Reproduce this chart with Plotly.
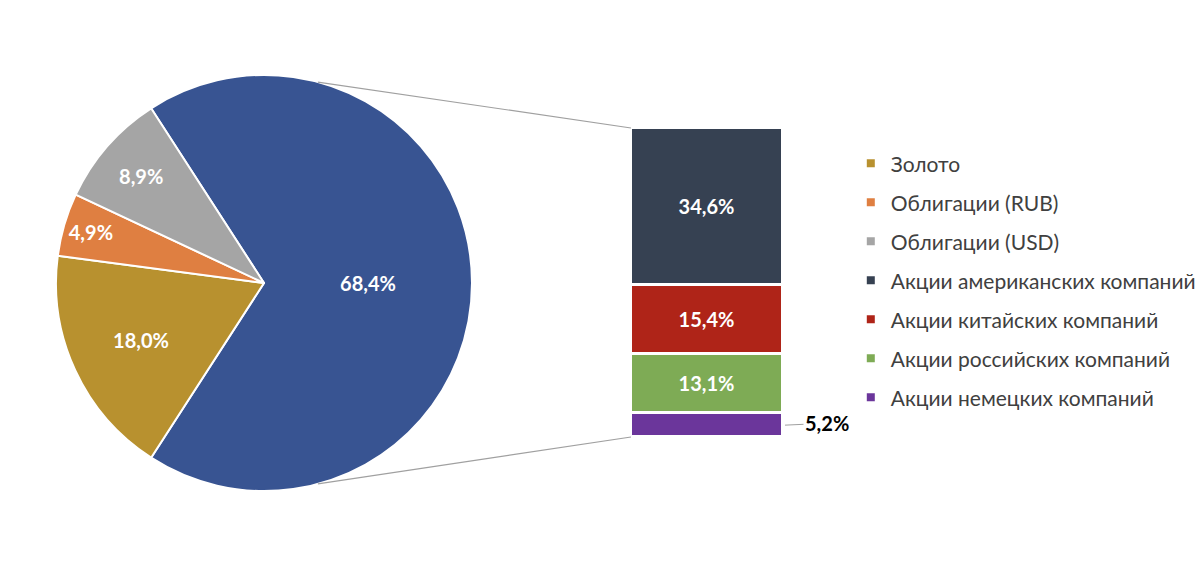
import math
import plotly.graph_objects as go

# ---------------- data ----------------
pie_labels = ["Акции", "Золото", "Облигации (RUB)", "Облигации (USD)"]
pie_values = [68.4, 18.0, 4.9, 8.9]
pie_colors = ["#385492", "#B8912F", "#DF7F41", "#A5A5A5"]

bar_labels = ["Акции немецких компаний", "Акции российских компаний",
              "Акции китайских компаний", "Акции американских компаний"]
bar_values = [5.2, 13.1, 15.4, 34.6]
bar_colors = ["#6B369B", "#7EAB55", "#AF2418", "#364152"]

legend_labels = ["Золото", "Облигации (RUB)", "Облигации (USD)",
                 "Акции американских компаний", "Акции китайских компаний",
                 "Акции российских компаний", "Акции немецких компаний"]
legend_colors = ["#B8912F", "#DF7F41", "#A5A5A5", "#364152", "#AF2418", "#7EAB55", "#6B369B"]


def fmt(v):
    return f"{v:.1f}%".replace(".", ",")


W, H = 1200, 562
FONT = "Lato, 'Open Sans', sans-serif"

# pie geometry (pixels)
cx, cy, R = 264, 283, 208
pie_dom_x = [(cx - R) / W, (cx + R) / W]
pie_dom_y = [(H - cy - R) / H, (H - cy + R) / H]

# bar geometry (pixels)
bx0, bx1, by_top, by_bot = 631, 783, 128, 437
bar_dom_x = [bx0 / W, bx1 / W]
bar_dom_y = [(H - by_bot) / H, (H - by_top) / H]

fig = go.Figure()

total = sum(pie_values)
rotation = 90 - pie_values[0] / total * 360 / 2

fig.add_trace(go.Pie(
    labels=pie_labels, values=pie_values, text=[fmt(v) for v in pie_values],
    textinfo="text", textposition="inside", insidetextorientation="horizontal",
    marker=dict(colors=pie_colors, line=dict(color="white", width=2)),
    sort=False, direction="clockwise", rotation=rotation,
    domain=dict(x=pie_dom_x, y=pie_dom_y), showlegend=False,
    textfont=dict(family=FONT, size=20, color="white", weight="bold"),
    hoverinfo="label+text",
))

for lab, val, col in zip(bar_labels, bar_values, bar_colors):
    big = val > 8
    fig.add_trace(go.Bar(
        x=[0], y=[val], name=lab, marker=dict(color=col, line=dict(color="white", width=3)),
        text=[fmt(val)] if big else None, textposition="inside" if big else "none",
        insidetextanchor="middle", showlegend=False,
        textfont=dict(family=FONT, size=20, color="white", weight="bold"),
        xaxis="x", yaxis="y",
    ))

for lab, col in zip(legend_labels, legend_colors):
    fig.add_trace(go.Scatter(
        x=[None], y=[None], mode="markers", name=lab, legendgroup=lab,
        marker=dict(symbol="square", size=8, color=col), xaxis="x", yaxis="y",
    ))

# small outside label for the smallest bar segment
fig.add_annotation(
    x=0.5, y=bar_values[0] / 2, xref="x", yref="y", text=fmt(bar_values[0]),
    showarrow=True, arrowhead=0, arrowwidth=1, arrowcolor="#A0A0A0",
    ax=44, ay=-2, standoff=2,
    font=dict(family=FONT, size=20, color="black", weight="bold"),
)

# connector lines from the pie to the bar
for ang, (px, py) in [(15.0, (bx0, by_top)), (165.0, (bx0, by_bot))]:
    a = math.radians(ang)
    sx = cx + R * math.sin(a)
    sy = cy - R * math.cos(a)
    fig.add_shape(type="line", xref="paper", yref="paper",
                  x0=sx / W, y0=(H - sy) / H, x1=px / W, y1=(H - py) / H,
                  line=dict(color="#A0A0A0", width=1.2))

fig.update_layout(
    width=W, height=H, margin=dict(l=0, r=0, t=0, b=0, autoexpand=False),
    paper_bgcolor="white", plot_bgcolor="white",
    barmode="stack", bargap=0,
    xaxis=dict(domain=bar_dom_x, range=[-0.5, 0.5], visible=False, fixedrange=True),
    yaxis=dict(domain=bar_dom_y, range=[0, sum(bar_values)], visible=False, fixedrange=True),
    legend=dict(x=0.709, y=(H - 143.2) / H, xanchor="left", yanchor="top",
                traceorder="grouped", tracegroupgap=8.7,
                font=dict(family=FONT, size=21, color="#404040"), bgcolor="rgba(0,0,0,0)"),
    font=dict(family=FONT),
)

fig.write_html("out.html")
